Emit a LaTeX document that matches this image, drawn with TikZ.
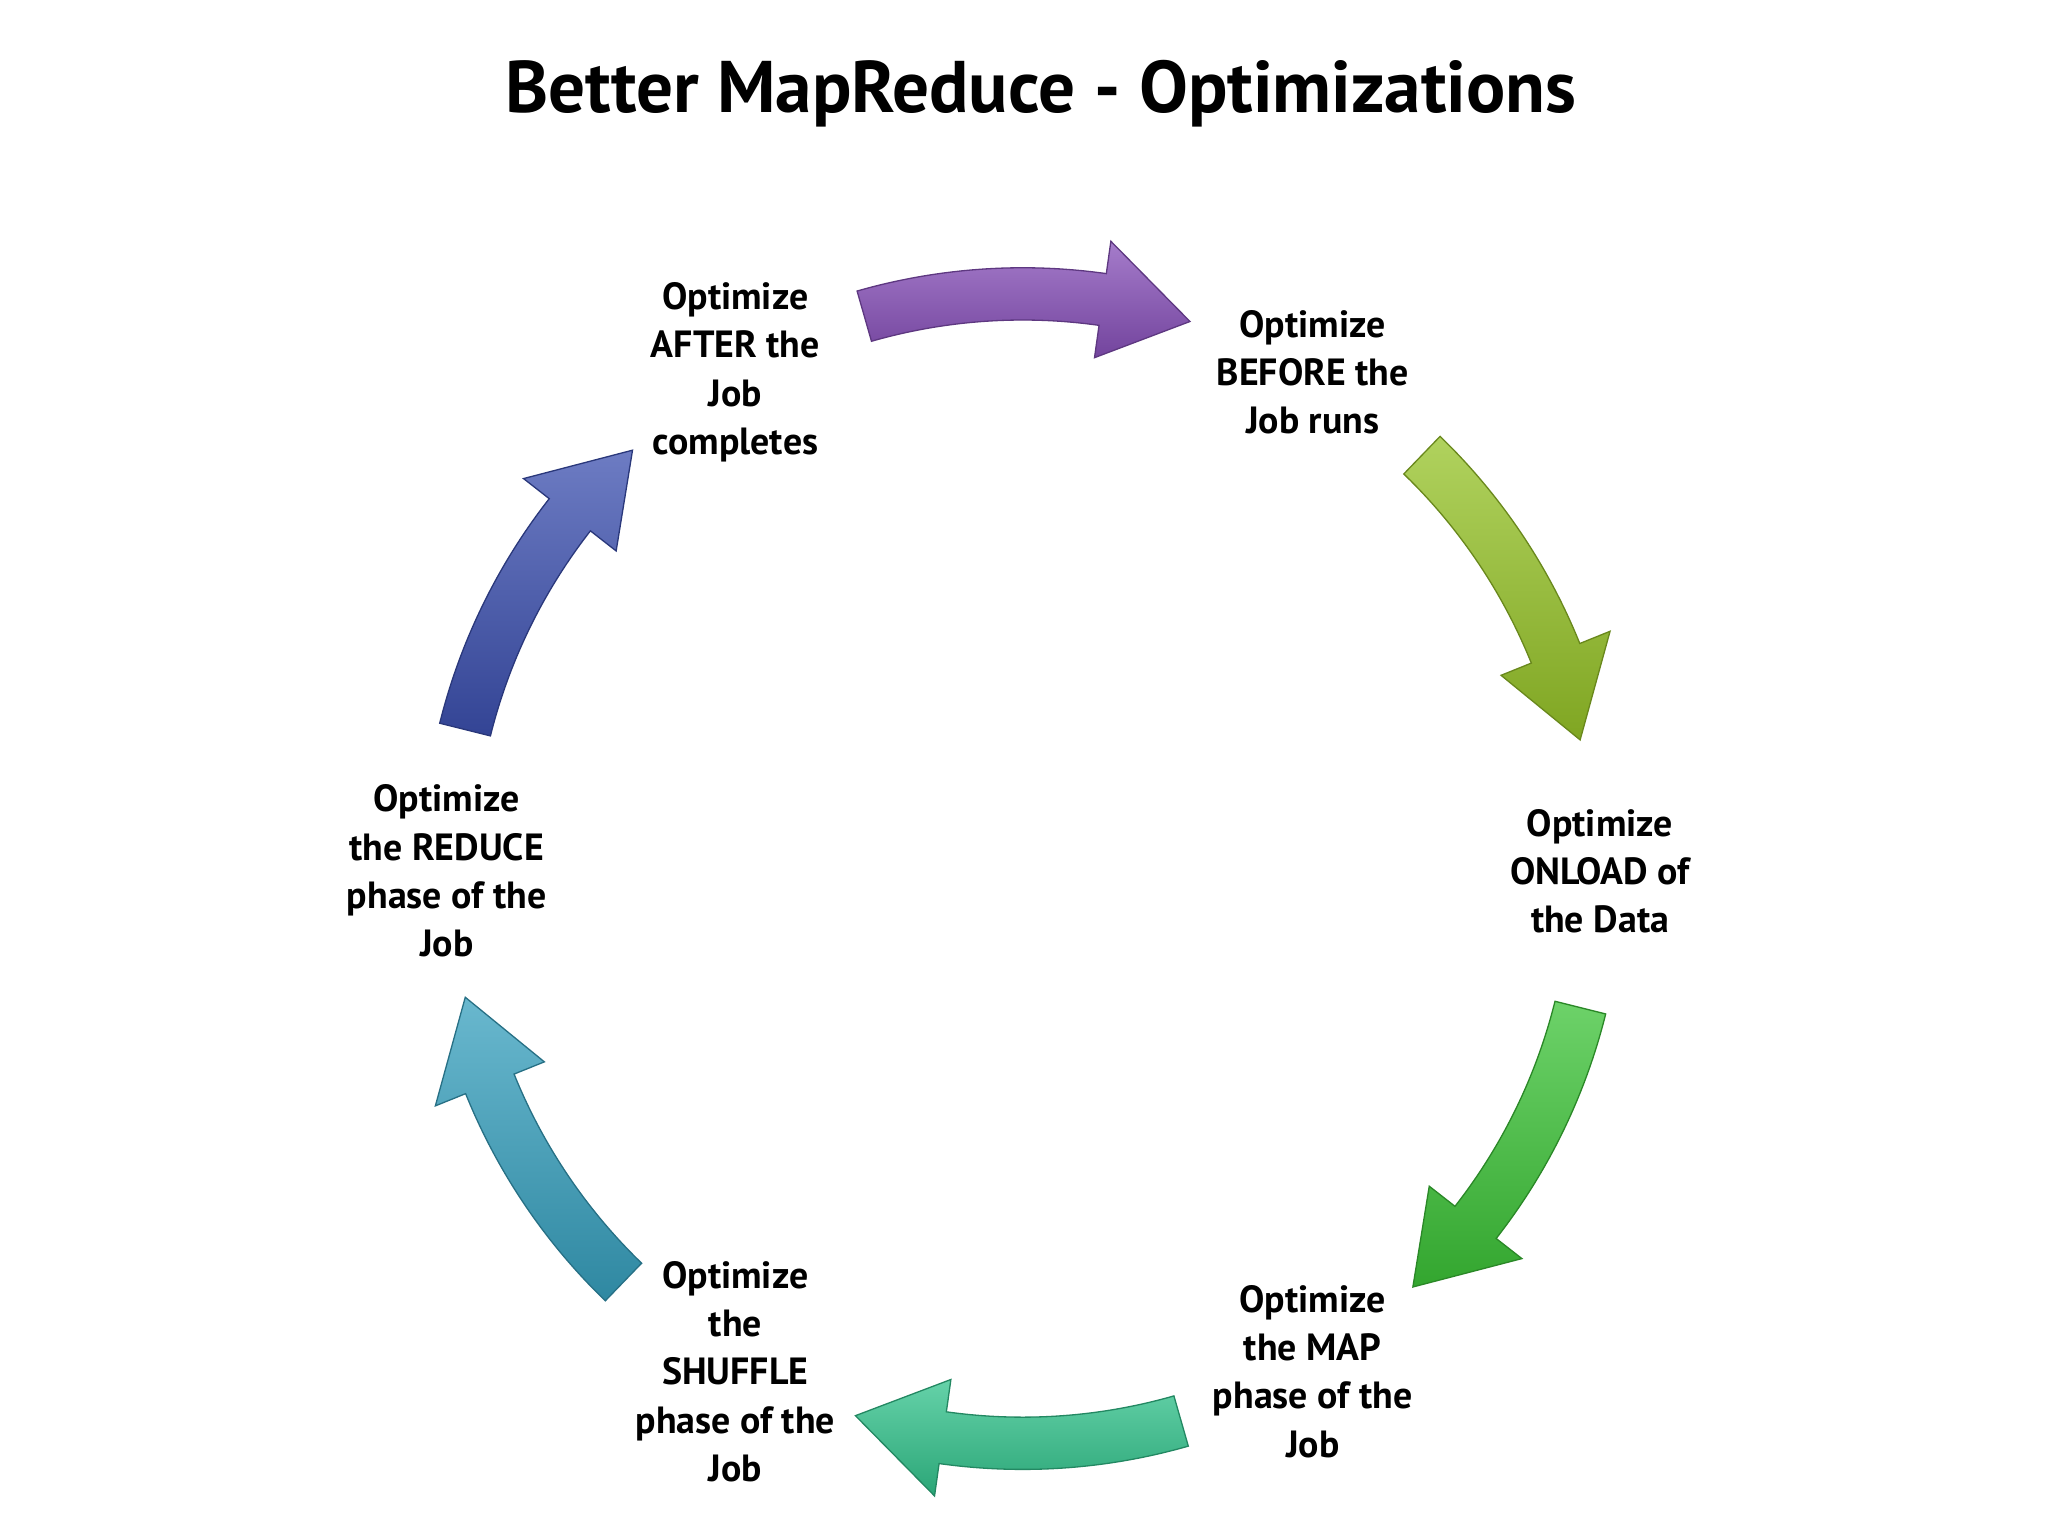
\documentclass[tikz,border=0pt]{standalone}
\usepackage{fontspec}
\setmainfont{PT Sans}
\begin{document}
\begin{tikzpicture}[x=1pt,y=-1pt,
  lbl/.style={align=center,font=\bfseries\fontsize{29}{37}\selectfont,text=black},
  arr/.style={draw=#1!70!black,line width=1pt,top color=#1!75!white,bottom color=#1!85!black}]
\useasboundingbox (0,0) rectangle (1568,1176);
\node[font=\bfseries\fontsize{56}{60}\selectfont] (title) at (797,72) {Better MapReduce - Optimizations};
\definecolor{cp}{RGB}{135,80,185}
\definecolor{cy}{RGB}{150,195,40}
\definecolor{cg}{RGB}{60,195,55}
\definecolor{ct}{RGB}{50,195,140}
\definecolor{cb}{RGB}{55,160,190}
\definecolor{cn}{RGB}{60,80,175}
\node[lbl] (l1) at (563,285) {Optimize\\AFTER the\\Job\\completes};
\node[lbl] (l2) at (1005,285) {Optimize\\BEFORE the\\Job runs};
\node[lbl] (l3) at (1225,667) {Optimize\\ONLOAD of\\the Data};
\node[lbl] (l4) at (1005,1050) {Optimize\\the MAP\\phase of the\\Job};
\node[lbl] (l5) at (563,1050) {Optimize\\the\\SHUFFLE\\phase of the\\Job};
\node[lbl] (l6) at (342,667) {Optimize\\the REDUCE\\phase of the\\Job};
\begin{scope}[shift={(783,665)},y=1pt]
\foreach \a/\c in {90/cp,30/cy,-30/cg,-90/ct,-150/cb,150/cn}{
  \path[arr=\c] (\a+16:460) arc[start angle=\a+16,end angle=\a-8,radius=460]
    -- (\a-8:485) -- (\a-17:438) -- (\a-8:395) -- (\a-8:420)
    arc[start angle=\a-8,end angle=\a+16,radius=420] -- cycle;
}
\end{scope}
\end{tikzpicture}
\end{document}
